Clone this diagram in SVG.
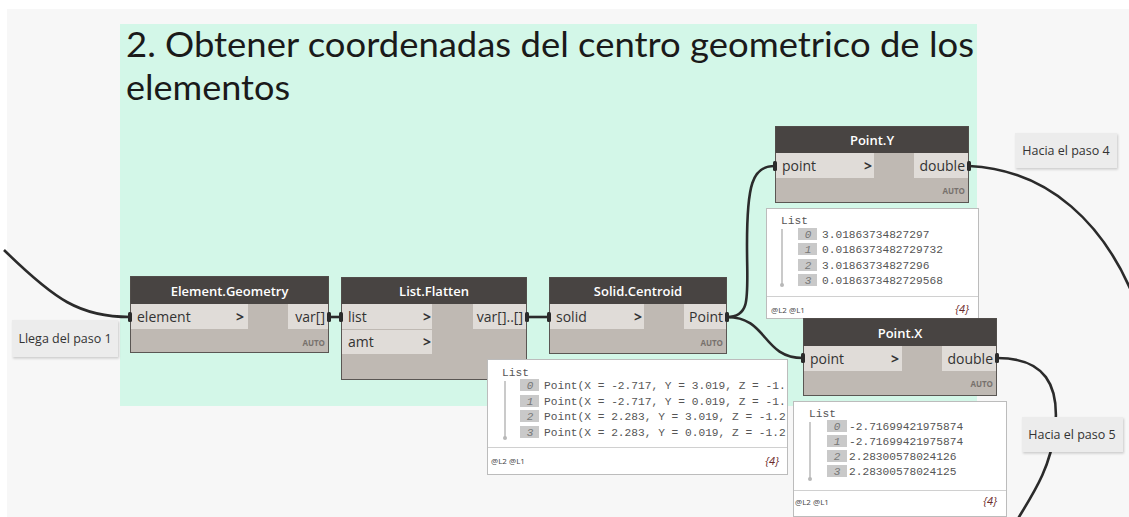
<svg xmlns="http://www.w3.org/2000/svg" width="1129" height="517" viewBox="0 0 1129 517">
<style>
.hdr{fill:#484442;}
.body{fill:#bfb9b3;stroke:#5a5653;stroke-width:1;}
.row{fill:#e0dcd8;}
.title{font-family:"Open Sans","Noto Sans",sans-serif;font-size:13px;font-weight:600;fill:#ffffff;text-anchor:middle;}
.port{font-family:"Open Sans","Noto Sans",sans-serif;font-size:14px;fill:#333333;}
.chev{font-family:"Open Sans","Noto Sans",sans-serif;font-size:14px;font-weight:700;fill:#333333;}
.auto{font-family:"Open Sans","Noto Sans",sans-serif;font-size:8px;font-weight:700;fill:#77716d;text-anchor:end;}
.prev{fill:#ffffff;stroke:#bcbcbc;stroke-width:1;}
.mono{font-family:"Liberation Mono","DejaVu Sans Mono",monospace;font-size:11.2px;fill:#555555;}
.idx{fill:#c9c9c9;}
.idxt{font-family:"Liberation Mono","DejaVu Sans Mono",monospace;font-size:11px;font-style:italic;fill:#777777;text-anchor:middle;}
.foot{font-family:"Open Sans","Noto Sans",sans-serif;font-size:8px;fill:#444444;}
.cnt{font-family:"Open Sans","Noto Sans",sans-serif;font-size:11px;font-style:italic;fill:#6b2a2a;text-anchor:end;}
.note{fill:#ececec;}
.notet{font-family:"Open Sans","Noto Sans",sans-serif;font-size:12.5px;fill:#333333;text-anchor:middle;}
.wire{fill:none;stroke:#2b2b2b;stroke-width:2.6;}
.pin{fill:#2b2b2b;}
.vline{stroke:#b8b8b8;stroke-width:1.5;}
.gtitle{font-family:Lato,"Open Sans",sans-serif;font-size:35px;fill:#1a1a1a;}
</style>
<defs>
<filter id="sh" x="-10%" y="-20%" width="130%" height="150%">
<feDropShadow dx="1" dy="1.5" stdDeviation="1.2" flood-color="#000" flood-opacity="0.18"/>
</filter>
</defs>
<rect x="0" y="0" width="1129" height="517" fill="#ffffff"/>
<rect x="7" y="9" width="1122" height="508" fill="#f7f7f7"/>
<g id="group-bg">
<rect x="120" y="24" width="857" height="382" fill="#d3f7e8"/>
<text class="gtitle" x="126" y="57" textLength="848" lengthAdjust="spacingAndGlyphs">2. Obtener coordenadas del centro geometrico de los</text>
<text class="gtitle" x="126" y="100" textLength="164" lengthAdjust="spacingAndGlyphs">elementos</text>
</g>
<g id="connectors">
<path class="wire" d="M 4 250 C 55 300, 80 317, 130 317"/>
<path class="wire" d="M 330 317 L 341 317"/>
<path class="wire" d="M 527 317 L 549 317"/>
<path class="wire" d="M 727 317 C 752 317, 747 295, 747 245 C 747 185, 752 166, 775 166"/>
<path class="wire" d="M 727 317 C 768 317, 762 358, 803 358"/>
<path class="wire" d="M 969 166 C 1050 170, 1105 225, 1135 300"/>
<path class="wire" d="M 997 358 C 1045 358, 1060 385, 1055 430 C 1050 470, 1032 495, 1016 522"/>
</g>
<g id="node-element-geometry">
<rect class="body" x="130.5" y="276.5" width="198" height="76"/>
<rect class="hdr" x="130.5" y="276.5" width="198" height="27.5"/>
<text class="title" x="229.5" y="296">Element.Geometry</text>
<rect class="row" x="131" y="304" width="117" height="25"/>
<rect class="row" x="288" y="304" width="40" height="25"/>
<text class="port" x="137" y="322">element</text>
<text class="chev" x="236" y="322">&gt;</text>
<text class="port" x="325" y="322" text-anchor="end">var[]</text>
<text class="auto" x="325" y="346">AUTO</text>
<rect class="pin" x="128" y="312" width="4" height="10" rx="1.5"/>
<rect class="pin" x="327" y="312" width="4" height="10" rx="1.5"/>
</g>
<g id="node-list-flatten">
<rect class="body" x="341.5" y="277.5" width="185" height="102"/>
<rect class="hdr" x="341.5" y="277.5" width="185" height="26.5"/>
<text class="title" x="434" y="296">List.Flatten</text>
<rect class="row" x="342" y="304" width="90" height="25"/>
<rect class="row" x="342" y="330" width="90" height="24"/>
<rect class="row" x="473" y="304" width="53" height="25"/>
<text class="port" x="348" y="322">list</text>
<text class="chev" x="423" y="322">&gt;</text>
<text class="port" x="348" y="347">amt</text>
<text class="chev" x="423" y="347">&gt;</text>
<text class="port" x="523" y="322" text-anchor="end">var[]..[]</text>
<rect class="pin" x="339" y="312" width="4" height="10" rx="1.5"/>
<rect class="pin" x="525" y="312" width="4" height="10" rx="1.5"/>
</g>
<g id="node-solid-centroid">
<rect class="body" x="549.5" y="277.5" width="177" height="76"/>
<rect class="hdr" x="549.5" y="277.5" width="177" height="26.5"/>
<text class="title" x="638" y="296">Solid.Centroid</text>
<rect class="row" x="550" y="304" width="94" height="25"/>
<rect class="row" x="684" y="304" width="42" height="25"/>
<text class="port" x="556" y="322">solid</text>
<text class="chev" x="634" y="322">&gt;</text>
<text class="port" x="723" y="322" text-anchor="end">Point</text>
<text class="auto" x="723" y="346">AUTO</text>
<rect class="pin" x="547" y="312" width="4" height="10" rx="1.5"/>
<rect class="pin" x="725" y="312" width="4" height="10" rx="1.5"/>
</g>
<g id="preview-solid-centroid">
<rect class="prev" x="487.5" y="359.5" width="300" height="115"/>
<line x1="488" y1="447.5" x2="787" y2="447.5" stroke="#d0d0d0" stroke-width="1"/>
<text class="mono" x="502" y="376">List</text>
<line class="vline" x1="505" y1="381" x2="505" y2="437"/>
<circle cx="505" cy="438" r="2" fill="#b8b8b8"/>
<rect class="idx" x="520" y="379" width="19" height="12"/>
<rect class="idx" x="520" y="395" width="19" height="12"/>
<rect class="idx" x="520" y="410" width="19" height="12"/>
<rect class="idx" x="520" y="426" width="19" height="12"/>
<text class="idxt" x="530" y="389">0</text>
<text class="idxt" x="530" y="405">1</text>
<text class="idxt" x="530" y="420">2</text>
<text class="idxt" x="530" y="436">3</text>
<text class="mono" x="544" y="389">Point(X = -2.717, Y = 3.019, Z = -1.</text>
<text class="mono" x="544" y="405">Point(X = -2.717, Y = 0.019, Z = -1.</text>
<text class="mono" x="544" y="420">Point(X = 2.283, Y = 3.019, Z = -1.2</text>
<text class="mono" x="544" y="436">Point(X = 2.283, Y = 0.019, Z = -1.2</text>
<text class="foot" x="491" y="464">@L2 @L1</text>
<text class="cnt" x="779" y="465">{4}</text>
</g>
<g id="node-point-y">
<rect class="body" x="775.5" y="126.5" width="193" height="76"/>
<rect class="hdr" x="775.5" y="126.5" width="193" height="26.5"/>
<text class="title" x="872" y="145">Point.Y</text>
<rect class="row" x="776" y="153" width="98" height="25"/>
<rect class="row" x="914" y="153" width="54" height="25"/>
<text class="port" x="782" y="171">point</text>
<text class="chev" x="864" y="171">&gt;</text>
<text class="port" x="965" y="171" text-anchor="end">double</text>
<text class="auto" x="965" y="194">AUTO</text>
<rect class="pin" x="773" y="161" width="4" height="10" rx="1.5"/>
<rect class="pin" x="967" y="161" width="4" height="10" rx="1.5"/>
</g>
<g id="preview-point-y">
<rect class="prev" x="766.5" y="208.5" width="212" height="110"/>
<line x1="767" y1="296.5" x2="978" y2="296.5" stroke="#d0d0d0" stroke-width="1"/>
<text class="mono" x="781" y="224">List</text>
<line class="vline" x1="782" y1="229" x2="782" y2="284"/>
<circle cx="782" cy="285" r="2" fill="#b8b8b8"/>
<rect class="idx" x="798" y="228" width="19" height="12"/>
<rect class="idx" x="798" y="243" width="19" height="12"/>
<rect class="idx" x="798" y="259" width="19" height="12"/>
<rect class="idx" x="798" y="274" width="19" height="12"/>
<text class="idxt" x="808" y="238">0</text>
<text class="idxt" x="808" y="253">1</text>
<text class="idxt" x="808" y="269">2</text>
<text class="idxt" x="808" y="284">3</text>
<text class="mono" x="822" y="238">3.01863734827297</text>
<text class="mono" x="822" y="253">0.0186373482729732</text>
<text class="mono" x="822" y="269">3.01863734827296</text>
<text class="mono" x="822" y="284">0.0186373482729568</text>
<text class="foot" x="771" y="313">@L2 @L1</text>
<text class="cnt" x="969" y="313">{4}</text>
</g>
<g id="node-point-x">
<rect class="body" x="803.5" y="318.5" width="193" height="77"/>
<rect class="hdr" x="803.5" y="318.5" width="193" height="27.5"/>
<text class="title" x="900" y="338">Point.X</text>
<rect class="row" x="804" y="346" width="98" height="25"/>
<rect class="row" x="942" y="346" width="54" height="25"/>
<text class="port" x="810" y="364">point</text>
<text class="chev" x="891" y="364">&gt;</text>
<text class="port" x="993" y="364" text-anchor="end">double</text>
<text class="auto" x="993" y="387">AUTO</text>
<rect class="pin" x="801" y="353" width="4" height="10" rx="1.5"/>
<rect class="pin" x="995" y="353" width="4" height="10" rx="1.5"/>
</g>
<g id="preview-point-x">
<rect class="prev" x="793.5" y="401.5" width="213" height="115"/>
<line x1="794" y1="490.5" x2="1006" y2="490.5" stroke="#d0d0d0" stroke-width="1"/>
<text class="mono" x="809" y="417">List</text>
<line class="vline" x1="810" y1="422" x2="810" y2="478"/>
<circle cx="810" cy="479" r="2" fill="#b8b8b8"/>
<rect class="idx" x="827" y="420" width="20" height="12"/>
<rect class="idx" x="827" y="435" width="20" height="12"/>
<rect class="idx" x="827" y="450" width="20" height="12"/>
<rect class="idx" x="827" y="465" width="20" height="12"/>
<text class="idxt" x="837" y="430">0</text>
<text class="idxt" x="837" y="445">1</text>
<text class="idxt" x="837" y="460">2</text>
<text class="idxt" x="837" y="475">3</text>
<text class="mono" x="849" y="430">-2.71699421975874</text>
<text class="mono" x="849" y="445">-2.71699421975874</text>
<text class="mono" x="849" y="460">2.28300578024126</text>
<text class="mono" x="849" y="475">2.28300578024125</text>
<text class="foot" x="795" y="505">@L2 @L1</text>
<text class="cnt" x="997" y="505">{4}</text>
</g>
<g id="note-llega-paso-1">
<rect class="note" x="12" y="320" width="106" height="37" filter="url(#sh)"/>
<text class="notet" x="65" y="343">Llega del paso 1</text>
</g>
<g id="note-hacia-paso-4">
<rect class="note" x="1015" y="133" width="102" height="35" filter="url(#sh)"/>
<text class="notet" x="1066" y="155">Hacia el paso 4</text>
</g>
<g id="note-hacia-paso-5">
<rect class="note" x="1022" y="417" width="101" height="35" filter="url(#sh)"/>
<text class="notet" x="1072" y="439">Hacia el paso 5</text>
</g>
</svg>
